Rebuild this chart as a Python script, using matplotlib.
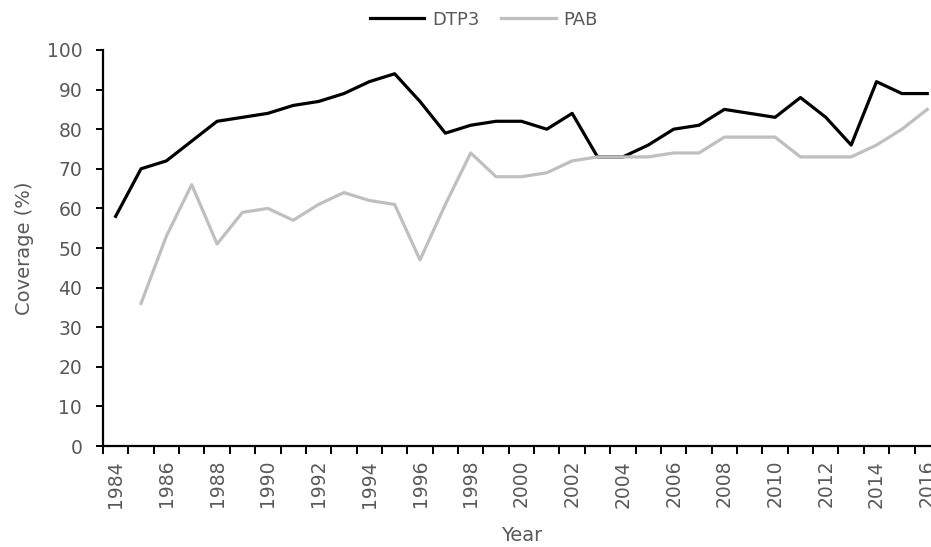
import numpy as np
import matplotlib.pyplot as plt

plt.rcParams['font.family'] = ['DejaVu Sans']

years = np.arange(1984, 2017)
dtp3 = [58, 70, 72, 77, 82, 83, 84, 86, 87, 89, 92, 94, 87, 79, 81, 82, 82, 80, 84, 73,
        73, 76, 80, 81, 85, 84, 83, 88, 83, 76, 92, 89, 89]
pab_years = np.arange(1985, 2017)
pab = [36, 53, 66, 51, 59, 60, 57, 61, 64, 62, 61, 47, 61, 74, 68, 68, 69, 72, 73,
       73, 73, 74, 74, 78, 78, 78, 73, 73, 73, 76, 80, 85]
label_years = years[::2]

fig = plt.figure(figsize=(9.31, 5.47), dpi=100)
ax = fig.add_axes([0.1106, 0.1846, 0.899, 0.724])

ax.plot(years, dtp3, color='black', lw=2.3, label='DTP3')
ax.plot(pab_years, pab, color='#BFBFBF', lw=2.3, label='PAB')

ax.set_xlim(1983.5, 2016.5)
ax.set_ylim(0, 100)
ax.set_yticks(np.arange(0, 101, 10))
# ticks sit between categories, labels on every second category
ax.set_xticks(np.arange(1983.5, 2017, 1))
ax.set_xticklabels([])
ax.set_xticks(label_years, minor=True)
ax.set_xticklabels([str(y) for y in label_years], minor=True, rotation=90,
                   fontsize=13.5, color='#595959')
ax.tick_params(axis='x', which='minor', length=0, pad=10)
ax.tick_params(axis='x', which='major', length=6, width=1.4, color='black')
ax.tick_params(axis='y', length=5, width=1.4, color='black', labelsize=13.5,
               labelcolor='#595959', pad=10)

for s in ['top', 'right']:
    ax.spines[s].set_visible(False)
for s in ['left', 'bottom']:
    ax.spines[s].set_linewidth(1.6)
    ax.spines[s].set_color('black')

ax.set_ylabel('Coverage (%)', fontsize=14, color='#595959', labelpad=9)
ax.set_xlabel('Year', fontsize=14, color='#595959', labelpad=13)

fig.legend(loc='upper center', bbox_to_anchor=(0.52, 1.01), ncol=2, frameon=False,
           fontsize=13, labelcolor='#595959', handlelength=3, handletextpad=0.45,
           columnspacing=1.2)

fig.savefig('out.png', dpi=100)
